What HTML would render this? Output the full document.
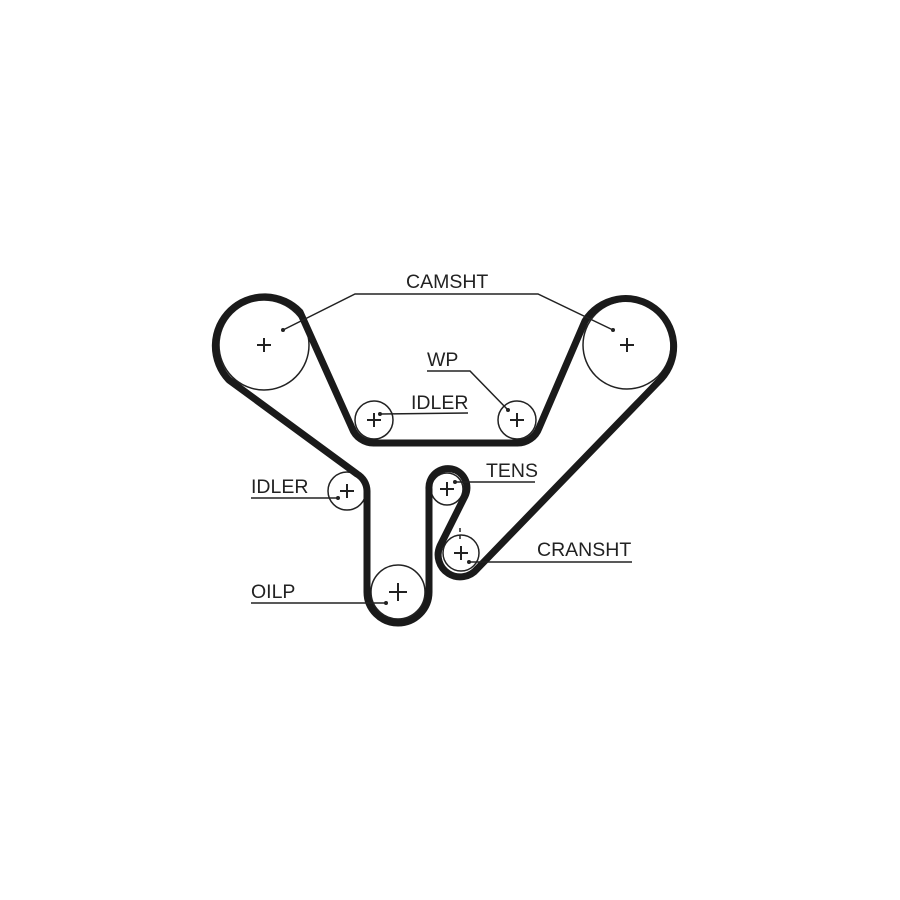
<!DOCTYPE html><html><head><style>body{margin:0;background:#fff}svg{display:block}</style></head><body>
<svg width="900" height="900" viewBox="0 0 900 900" xmlns="http://www.w3.org/2000/svg" font-family="Liberation Sans, sans-serif">
<g fill="none" stroke="#222" stroke-width="1.5">
<circle cx="264" cy="345" r="45"/><circle cx="627" cy="345" r="44"/>
<circle cx="374" cy="420" r="19"/><circle cx="517" cy="420" r="19"/>
<circle cx="347" cy="491" r="19"/><circle cx="398" cy="592" r="27"/>
<circle cx="447" cy="489" r="16"/><circle cx="461" cy="553" r="18"/>
</g>
<path d="M229,380 A49,49 0 1 1 300,312 L352,428 A23,23 0 0 0 374,443 L517,443 A23,23 0 0 0 539,428 L585,321 A48,48 0 1 1 661,379 L477,569 A22,22 0 0 1 440,546 L465,496 A19,19 0 1 0 429,489 L429,592 A31,31 0 0 1 367,592 L367,491 A20,20 0 0 0 357,474 Z" fill="none" stroke="#1a1a1a" stroke-width="7" stroke-linejoin="round"/>
<g stroke="#222" stroke-width="2">
<path d="M257,345h14M264,338v14M620,345h14M627,338v14M367,420h14M374,413v14M510,420h14M517,413v14M340,491h14M347,484v14M389,592h18M398,583v18M440,489h14M447,482v14M454,553h14M461,546v14"/>
</g>
<g stroke="#222" stroke-width="1.5" fill="none">
<path d="M283,330 L355,294 L538,294 L613,330"/>
<path d="M427,371 L470,371 L508,410"/>
<path d="M468,413 L380,414"/>
<path d="M251,498 L338,498"/>
<path d="M251,603 L386,603"/>
<path d="M535,482 L455,482"/>
<path d="M632,562 L469,562"/>
<path d="M460,528 v4 M460,535 v4" />
</g>
<g fill="#222"><circle cx="283" cy="330" r="2"/><circle cx="613" cy="330" r="2"/><circle cx="508" cy="410" r="2"/><circle cx="380" cy="414" r="2"/><circle cx="338" cy="498" r="2"/><circle cx="386" cy="603" r="2"/><circle cx="455" cy="482" r="2"/><circle cx="469" cy="562" r="2"/></g>
<g font-size="19.5" fill="#222">
<text x="406" y="288">CAMSHT</text>
<text x="427" y="366">WP</text>
<text x="411" y="409">IDLER</text>
<text x="251" y="493">IDLER</text>
<text x="251" y="598">OILP</text>
<text x="486" y="477">TENS</text>
<text x="537" y="556">CRANSHT</text>
</g>
</svg></body></html>
